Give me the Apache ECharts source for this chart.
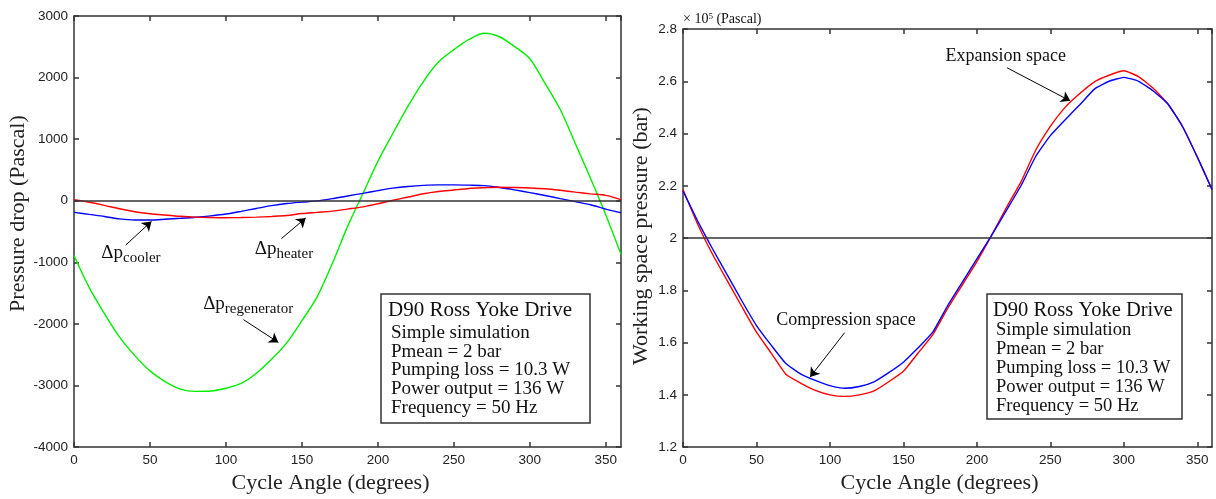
<!DOCTYPE html>
<html>
<head>
<meta charset="utf-8">
<script src="https://cdn.jsdelivr.net/npm/echarts@6/dist/echarts.min.js"></script>
<style>
  html, body { margin: 0; padding: 0; background: #fff; }
  #chart { width: 1216px; height: 499px; }
</style>
</head>
<body>
<div id="chart"></div>
<script>
// Cycle angle samples (degrees)
const cycleAngle = [0,10,20,30,40,50,60,70,80,90,100,110,120,130,140,150,160,170,180,
                    190,200,210,220,230,240,250,260,270,280,290,300,310,320,330,340,350,360];

// Pressure drop across the heat exchangers (Pascal)
const dpRegenerator = [-890,-1410,-1830,-2215,-2515,-2762,-2938,-3059,-3095,-3090,-3045,-2966,-2800,-2574,-2307,-1948,
                       -1560,-1020,-420,110,640,1100,1545,1940,2256,2453,2619,2720,2663,2502,2306,1906,1481,927,360,-231,-870];
const dpCooler = [-188,-222,-255,-295,-313,-312,-300,-285,-268,-245,-215,-172,-125,-80,-45,-22,
                  -2,35,78,120,165,205,232,250,258,258,254,246,215,176,133,86,35,-15,-65,-135,-195];
const dpHeater = [18,-25,-75,-130,-178,-210,-232,-252,-266,-272,-275,-273,-266,-255,-240,-208,
                  -188,-168,-135,-100,-48,8,61,114,150,175,200,212,220,215,208,195,170,140,112,88,18];

// Working space pressure (bar)
const pExpansion = [2.186,2.053,1.939,1.838,1.738,1.640,1.560,1.479,1.445,1.417,1.400,1.394,1.400,1.415,1.450,1.490,
                    1.560,1.630,1.730,1.820,1.910,2.010,2.116,2.215,2.336,2.427,2.500,2.553,2.598,2.623,2.640,2.618,2.573,2.513,2.426,2.310,2.186];
const pCompression = [2.180,2.065,1.960,1.860,1.760,1.665,1.590,1.520,1.480,1.455,1.435,1.425,1.432,1.450,1.485,1.525,
                      1.580,1.640,1.740,1.830,1.920,2.010,2.105,2.200,2.312,2.392,2.452,2.510,2.570,2.600,2.615,2.600,2.563,2.513,2.426,2.310,2.186];

const dropBaseline = 0;
const meanPressure = 2;

const infoTitle = 'D90 Ross Yoke Drive';
const infoLines = ['Simple simulation', 'Pmean = 2 bar', 'Pumping loss = 10.3 W', 'Power output = 136 W', 'Frequency = 50 Hz'];

const serif = '"Liberation Serif", "Times New Roman", serif';
const tickFont = '"Liberation Sans", Arial, sans-serif';
const ink = '#333';

const pair = (xs, ys) => xs.map((x, i) => [x, ys[i]]);

const chart = echarts.init(document.getElementById('chart'), null, { renderer: 'canvas' });

const axisLine = { show: true, onZero: false, lineStyle: { color: ink, width: 1.5 } };
const axisTick = { show: true, inside: true, length: 5, lineStyle: { color: ink, width: 1.5 } };
const tickLabel = (show) => ({ show, color: '#222', fontFamily: tickFont, fontSize: 13.5, margin: 6,
                               formatter: (v) => String(+v.toFixed(2)) });
const nameStyle = (pad) => ({ fontFamily: serif, fontSize: 22, color: '#222', padding: pad });

function angleAxis(grid, position, labeled, nameGap, pad) {
  return {
    gridIndex: grid, type: 'value', position, min: 0, max: 360, interval: 50,
    axisLine, axisTick, splitLine: { show: false },
    axisLabel: Object.assign(tickLabel(labeled), { showMaxLabel: false }),
    name: labeled ? 'Cycle Angle (degrees)' : '', nameLocation: 'middle', nameGap, nameTextStyle: nameStyle(pad)
  };
}
function valueAxis(grid, position, labeled, range, name, nameGap, pad) {
  return {
    gridIndex: grid, type: 'value', position, min: range[0], max: range[1], interval: range[2],
    axisLine, axisTick, splitLine: { show: false },
    axisLabel: tickLabel(labeled),
    name: labeled ? name : '', nameLocation: 'middle', nameGap, nameTextStyle: nameStyle(pad)
  };
}

function curve(name, xi, yi, values, color, smooth) {
  return {
    type: 'line', name, xAxisIndex: xi, yAxisIndex: yi, data: pair(cycleAngle, values), smooth,
    symbol: 'none', lineStyle: { color, width: 1.4 }, itemStyle: { color }, z: 3, silent: true
  };
}
function baseline(xi, yi, value) {
  return {
    type: 'line', xAxisIndex: xi, yAxisIndex: yi, data: [], silent: true,
    markLine: { silent: true, symbol: 'none', label: { show: false }, animation: false,
      lineStyle: { color: ink, width: 1.5, type: 'solid' }, data: [{ yAxis: value }] }
  };
}
function pointers(xi, yi, segments) {
  return {
    type: 'lines', coordinateSystem: 'cartesian2d', xAxisIndex: xi, yAxisIndex: yi, silent: true, z: 6,
    symbol: ['none', 'arrow'], symbolSize: [0, 9],
    lineStyle: { color: '#000', width: 1, opacity: 1, curveness: 0 },
    data: segments.map(s => ({ coords: s }))
  };
}

const option = {
  animation: false,
  backgroundColor: '#fff',
  grid: [
    { left: 74, top: 16, width: 547, height: 434.5 },
    { left: 683, top: 29, width: 529, height: 423.5 }
  ],
  xAxis: [
    angleAxis(0, 'bottom', true, 20, [0, 34, 0, 0]),
    angleAxis(0, 'top', false, 0, 0),
    angleAxis(1, 'bottom', true, 24, [0, 16, 0, 0]),
    angleAxis(1, 'top', false, 0, 0)
  ],
  yAxis: [
    valueAxis(0, 'left', true, [-4000, 3000, 1000], 'Pressure drop (Pascal)', 38, [0, 0, 0, 36]),
    valueAxis(0, 'right', false, [-4000, 3000, 1000], '', 0, 0),
    valueAxis(1, 'left', true, [1.2, 2.8, 0.2], 'Working space pressure (bar)', 31, [0, 0, 0, 4]),
    valueAxis(1, 'right', false, [1.2, 2.8, 0.2], '', 0, 0)
  ],
  series: [
    baseline(0, 0, dropBaseline),
    curve('Δp regenerator', 0, 0, dpRegenerator, '#00ee00', 0.3),
    curve('Δp cooler', 0, 0, dpCooler, '#0000ff', 0.3),
    curve('Δp heater', 0, 0, dpHeater, '#ff0000', 0.3),
    pointers(0, 0, [
      [[34, -720], [51, -335]],
      [[136.5, -615], [152.5, -280]],
      [[111.5, -1930], [134.5, -2300]]
    ]),
    baseline(2, 2, meanPressure),
    curve('Expansion space', 2, 2, pExpansion, '#ff0000', 0.15),
    curve('Compression space', 2, 2, pCompression, '#0000ff', 0.15),
    pointers(2, 2, [
      [[220.4, 2.652], [263.5, 2.525]],
      [[110, 1.638], [86.5, 1.468]]
    ])
  ]
};
chart.setOption(option);

// Annotation text placed in data coordinates of each panel
const leftPx = (pt) => chart.convertToPixel({ xAxisIndex: 0, yAxisIndex: 0 }, pt);
const rightPx = (pt) => chart.convertToPixel({ xAxisIndex: 2, yAxisIndex: 2 }, pt);

const subRich = {
  d: { fontFamily: serif, fontSize: 19, lineHeight: 20, verticalAlign: 'top', fill: '#111' },
  s: { fontFamily: serif, fontSize: 15, lineHeight: 16, verticalAlign: 'top', padding: [7, 0, 0, 0], fill: '#111' }
};
function deltaLabel(p, sub) {
  return { type: 'text', x: p[0], y: p[1], z: 10, silent: true,
    style: { text: '{d|Δp}{s|' + sub + '}', rich: subRich, align: 'left', verticalAlign: 'middle' } };
}
function plainLabel(p, text) {
  return { type: 'text', x: p[0], y: p[1], z: 10, silent: true,
    style: { text, fontFamily: serif, fontSize: 18, fill: '#111', align: 'center', verticalAlign: 'middle' } };
}
function infoBox(x, y, w, h, titleSize, lineSize, titleX, titleY, lineX, lineY0, step) {
  const children = [
    { type: 'rect', shape: { x, y, width: w, height: h }, style: { fill: '#fff', stroke: ink, lineWidth: 1.5 } },
    { type: 'text', x: titleX, y: titleY, style: { text: infoTitle, fontFamily: serif, fontSize: titleSize, fill: '#111', verticalAlign: 'middle' } }
  ];
  infoLines.forEach((t, i) => children.push({
    type: 'text', x: lineX, y: lineY0 + i * step,
    style: { text: t, fontFamily: serif, fontSize: lineSize, fill: '#111', verticalAlign: 'middle' }
  }));
  return { type: 'group', z: 8, silent: true, children };
}

chart.setOption({
  graphic: [
    deltaLabel(leftPx([18, -860]), 'cooler'),
    deltaLabel(leftPx([119, -786]), 'heater'),
    deltaLabel(leftPx([85, -1680]), 'regenerator'),
    plainLabel(rightPx([219.6, 2.695]), 'Expansion space'),
    plainLabel(rightPx([110.9, 1.686]), 'Compression space'),
    { type: 'text', x: 683, y: 19, z: 10, silent: true,
      style: { text: '× 10{s|5} (Pascal)', fontFamily: serif, fontSize: 14, fill: '#111', verticalAlign: 'middle',
        rich: { s: { fontFamily: serif, fontSize: 9, verticalAlign: 'top', lineHeight: 10 } } } },
    infoBox(381, 294, 209, 129, 21, 19, 388, 310, 391, 333, 18.7),
    infoBox(987, 294, 195, 125, 20.5, 18.5, 993, 310.7, 996, 330, 19)
  ]
});
</script>
</body>
</html>
